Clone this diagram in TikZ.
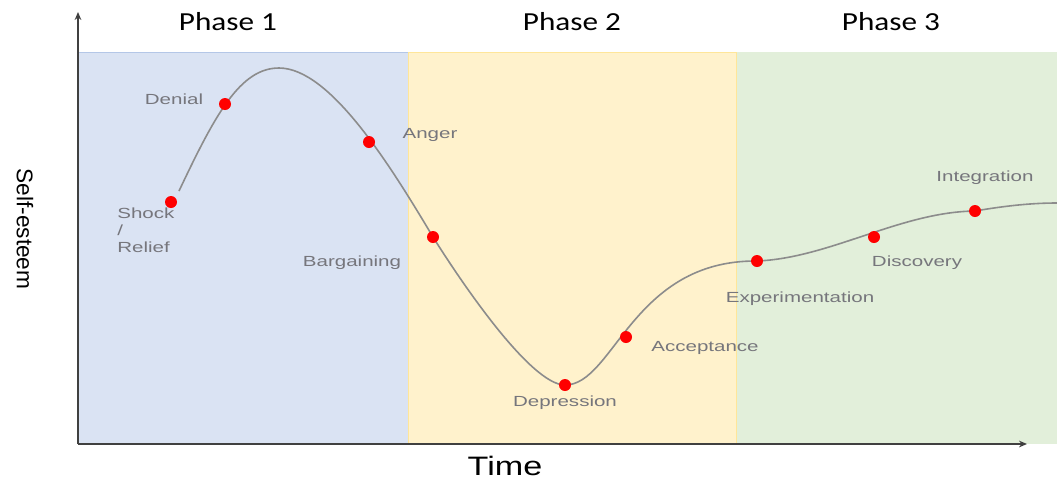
\documentclass[tikz,border=0pt]{standalone}
\usepackage{fontspec}
\setmainfont{Liberation Sans}
\newfontfamily\phasefont{Carlito}
\usetikzlibrary{arrows.meta}

\definecolor{bandblue}{RGB}{218,227,243}
\definecolor{bandyellow}{RGB}{255,242,204}
\definecolor{bandgreen}{RGB}{226,239,218}
\definecolor{edgeblue}{RGB}{180,199,231}
\definecolor{edgeyellow}{RGB}{255,230,153}
\definecolor{labelgray}{RGB}{118,118,124}
\definecolor{curvegray}{RGB}{140,140,140}

\begin{document}
\begin{tikzpicture}[x=0.75pt,y=-0.75pt,
    stage/.style={font=\fontsize{11}{12.75}\selectfont, text=labelgray, xscale=1.4, inner sep=0pt},
    stagedot/.style={circle, fill=red, inner sep=0pt, minimum size=9pt},
    phase/.style={font=\phasefont\fontsize{19.5}{20}\selectfont, xscale=1.2, inner sep=0pt}]
  \useasboundingbox (0,0) rectangle (1057,480);
  \fill[bandblue] (78,52) rectangle (408,444);     % phase 1
  \fill[bandyellow] (408,52) rectangle (736,444);  % phase 2
  \fill[bandgreen] (736,52) rectangle (1057,444);  % phase 3
  \draw[edgeblue] (78,444) |- (408,52) -- (408,444);
  \draw[edgeyellow] (408,444) -- (408,52) -| (736,444);
  \node[phase] (phaseA) at (228,22) {Phase 1};
  \node[phase] (phaseB) at (572,22) {Phase 2};
  \node[phase] (phaseC) at (891,22) {Phase 3};
  % axes
  \coordinate (origin) at (78,444);
  \coordinate (ytip) at (78,12);
  \coordinate (xtip) at (1027,444);
  \draw[black!75, line width=1pt, -{Stealth[length=6pt,width=5pt]}] (origin) -- (ytip);
  \draw[black!75, line width=1pt, -{Stealth[length=6pt,width=5pt]}] (origin) -- (xtip);
  \node[rotate=-90, font=\fontsize{17}{17}\selectfont, inner sep=0pt] (selfesteem) at (25,229) {Self-esteem};
  \node[font=\fontsize{20}{20}\selectfont, xscale=1.28, inner sep=0pt, anchor=base] (time) at (505,475) {Time};
  % the curve
  \coordinate (start) at (179,191);
  \coordinate (peak) at (279,68);
  \coordinate (finish) at (1057,203);
  \coordinate (denial) at (225,104);
  \coordinate (anger) at (369,142);
  \coordinate (bargaining) at (433,237);
  \coordinate (depression) at (565,385);
  \coordinate (acceptance) at (626,337);
  \coordinate (experimentation) at (757,261);
  \coordinate (discovery) at (874,237);
  \coordinate (integration) at (975,211);
  \draw[curvegray, line width=1.2pt] (start) .. controls (215,115) and (240,68) .. (peak)
    .. controls (330,68) and (390,165) .. (bargaining)
    .. controls (458,277) and (530,385) .. (depression)
    .. controls (614,385) and (632,260) .. (experimentation)
    .. controls (830,258) and (900,212) .. (integration)
    .. controls (1010,205) and (1035,203) .. (finish);
  \node[stagedot] (shockdot) at (171,202) {};
  \foreach \n in {denial,anger,bargaining,depression,acceptance,experimentation,discovery,integration}
    \node[stagedot] (\n dot) at (\n) {};
  % stage names
  \node[stage] (denialtext) at (174,99) {Denial};
  \node[stage] (angertext) at (430,135) {Anger};
  \node[stage, align=left, anchor=west] (shocktext) at (117,230) {Shock\\/\\Relief};
  \node[stage] (bargainingtext) at (352,263) {Bargaining};
  \node[stage] (depressiontext) at (565,403) {Depression};
  \node[stage] (acceptancetext) at (705,348) {Acceptance};
  \node[stage] (experimentationtext) at (800,299) {Experimentation};
  \node[stage] (discoverytext) at (917,263) {Discovery};
  \node[stage] (integrationtext) at (985,178) {Integration};
\end{tikzpicture}
\end{document}
